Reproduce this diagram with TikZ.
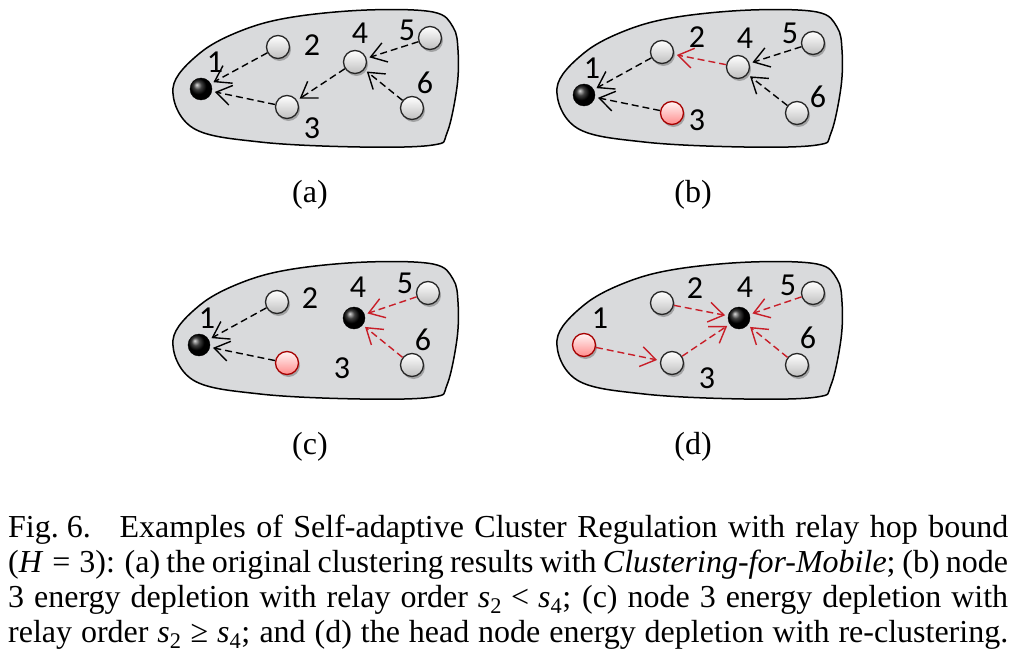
\documentclass[tikz,border=0pt]{standalone}
\usepackage{fontspec}
\setmainfont{Liberation Serif}
\newfontfamily\digitfont{Carlito}
\usetikzlibrary{arrows.meta,shadows}

\definecolor{blobgray}{RGB}{217,218,220}
\definecolor{hopred}{RGB}{200,30,40}

\newcommand\relsp{\hskip 0.28em}

\tikzset{
  blob/.style={draw=black, line width=1.5pt, fill=blobgray},
  sensor/.style={circle, draw=black!85, line width=1.3pt, minimum size=23pt, inner sep=0pt,
    top color=white, bottom color=gray!50,
    drop shadow={shadow xshift=1.5pt, shadow yshift=-2.5pt, opacity=0.25, fill=black}},
  drained/.style={sensor, draw=red!65!black, top color=red!4, bottom color=red!45},
  head/.style={circle, minimum size=22pt, inner sep=0pt, ball color=black, draw=black},
  tag/.style={font=\digitfont\fontsize{32}{36}\selectfont, inner sep=0pt},
  sub/.style={font=\fontsize{32}{36}\selectfont, inner sep=0pt},
  hop/.style={line width=1.4pt, dash pattern=on 7pt off 4pt, shorten >=3pt,
    -{Straight Barb[length=15pt, width=20pt]}},
  hopnew/.style={hop, draw=hopred}
}

\begin{document}
\begin{tikzpicture}[x=1pt, y=-1pt]
\path[use as bounding box, fill=white] (0,0) rectangle (1021,661);

\foreach \dx/\dy in {0/0, 384/0, 0/252, 384/252}
  \draw[blob, shift={(\dx,\dy)}] plot[smooth cycle, tension=0.6] coordinates {
    (173,88) (200,53) (243,30) (293,17) (367,10) (433,12) (453,27) (458,50)
    (457,87) (447,133) (433,145) (360,147) (260,142) (193,128)};

% (a)
\node[head]   (a1) at (201,89) {};
\node[sensor] (a2) at (278,47) {};
\node[sensor] (a3) at (287,107) {};
\node[sensor] (a4) at (355,62) {};
\node[sensor] (a5) at (430,38) {};
\node[sensor] (a6) at (412,108) {};
\node[tag] (ta1) at (215,62) {1};
\node[tag] (ta2) at (312,45) {2};
\node[tag] (ta3) at (312,128) {3};
\node[tag] (ta4) at (360,33) {4};
\node[tag] (ta5) at (407,30) {5};
\node[tag] (ta6) at (425,83) {6};
\draw[hop] (a2) -- (a1);
\draw[hop] (a3) -- (a1);
\draw[hop] (a4) -- (a3);
\draw[hop] (a5) -- (a4);
\draw[hop] (a6) -- (a4);
\node[sub] (capa) at (310,195) {(a)};

% (b)
\node[head]    (b1) at (584,95) {};
\node[sensor]  (b2) at (662,52) {};
\node[drained] (b3) at (672,113) {};
\node[sensor]  (b4) at (738,67) {};
\node[sensor]  (b5) at (813,43) {};
\node[sensor]  (b6) at (797,113) {};
\node[tag] (tb1) at (592,68) {1};
\node[tag] (tb2) at (697,37) {2};
\node[tag] (tb3) at (697,120) {3};
\node[tag] (tb4) at (745,38) {4};
\node[tag] (tb5) at (790,33) {5};
\node[tag] (tb6) at (818,97) {6};
\draw[hop] (b2) -- (b1);
\draw[hop] (b3) -- (b1);
\draw[hopnew] (b4) -- (b2);
\draw[hop] (b5) -- (b4);
\draw[hop] (b6) -- (b4);
\node[sub] (capb) at (693,195) {(b)};

% (c)
\node[head]    (c1) at (199,345) {};
\node[sensor]  (c2) at (277,302) {};
\node[drained] (c3) at (287,363) {};
\node[head]    (c4) at (354,318) {};
\node[sensor]  (c5) at (428,293) {};
\node[sensor]  (c6) at (412,365) {};
\node[tag] (tc1) at (207,318) {1};
\node[tag] (tc2) at (310,298) {2};
\node[tag] (tc3) at (342,368) {3};
\node[tag] (tc4) at (358,287) {4};
\node[tag] (tc5) at (405,283) {5};
\node[tag] (tc6) at (423,340) {6};
\draw[hop] (c2) -- (c1);
\draw[hop] (c3) -- (c1);
\draw[hopnew] (c5) -- (c4);
\draw[hopnew] (c6) -- (c4);
\node[sub] (capc) at (310,447) {(c)};

% (d)
\node[drained] (d1) at (584,345) {};
\node[sensor]  (d2) at (662,303) {};
\node[sensor]  (d3) at (672,363) {};
\node[head]    (d4) at (739,318) {};
\node[sensor]  (d5) at (813,293) {};
\node[sensor]  (d6) at (797,365) {};
\node[tag] (td1) at (600,318) {1};
\node[tag] (td2) at (695,288) {2};
\node[tag] (td3) at (707,378) {3};
\node[tag] (td4) at (745,287) {4};
\node[tag] (td5) at (788,285) {5};
\node[tag] (td6) at (808,338) {6};
\draw[hopnew] (d1) -- (d3);
\draw[hopnew] (d2) -- (d4);
\draw[hopnew] (d3) -- (d4);
\draw[hopnew] (d5) -- (d4);
\draw[hopnew] (d6) -- (d4);
\node[sub] (capd) at (693,447) {(d)};

% caption
\node[sub, anchor=base west] (line1) at (8,537)
  {\makebox[1000pt][s]{Fig.\hskip 0.25em 6.\hskip 0.9em Examples of Self-adaptive Cluster Regulation with relay hop bound}};
\node[sub, anchor=base west] (line2) at (8,572)
  {\makebox[1000pt][s]{(\textit{H}\relsp=\relsp 3): (a) the original clustering results with \textit{Clustering-for-Mobile}; (b) node}};
\node[sub, anchor=base west] (line3) at (8,607)
  {\makebox[1000pt][s]{3 energy depletion with relay order \textit{s}\textsubscript{2}\relsp<\relsp\textit{s}\textsubscript{4}; (c) node 3 energy depletion with}};
\node[sub, anchor=base west] (line4) at (8,642)
  {\makebox[1000pt][s]{relay order \textit{s}\textsubscript{2}\relsp≥\relsp\textit{s}\textsubscript{4}; and (d) the head node energy depletion with re-clustering.}};
\end{tikzpicture}
\end{document}
